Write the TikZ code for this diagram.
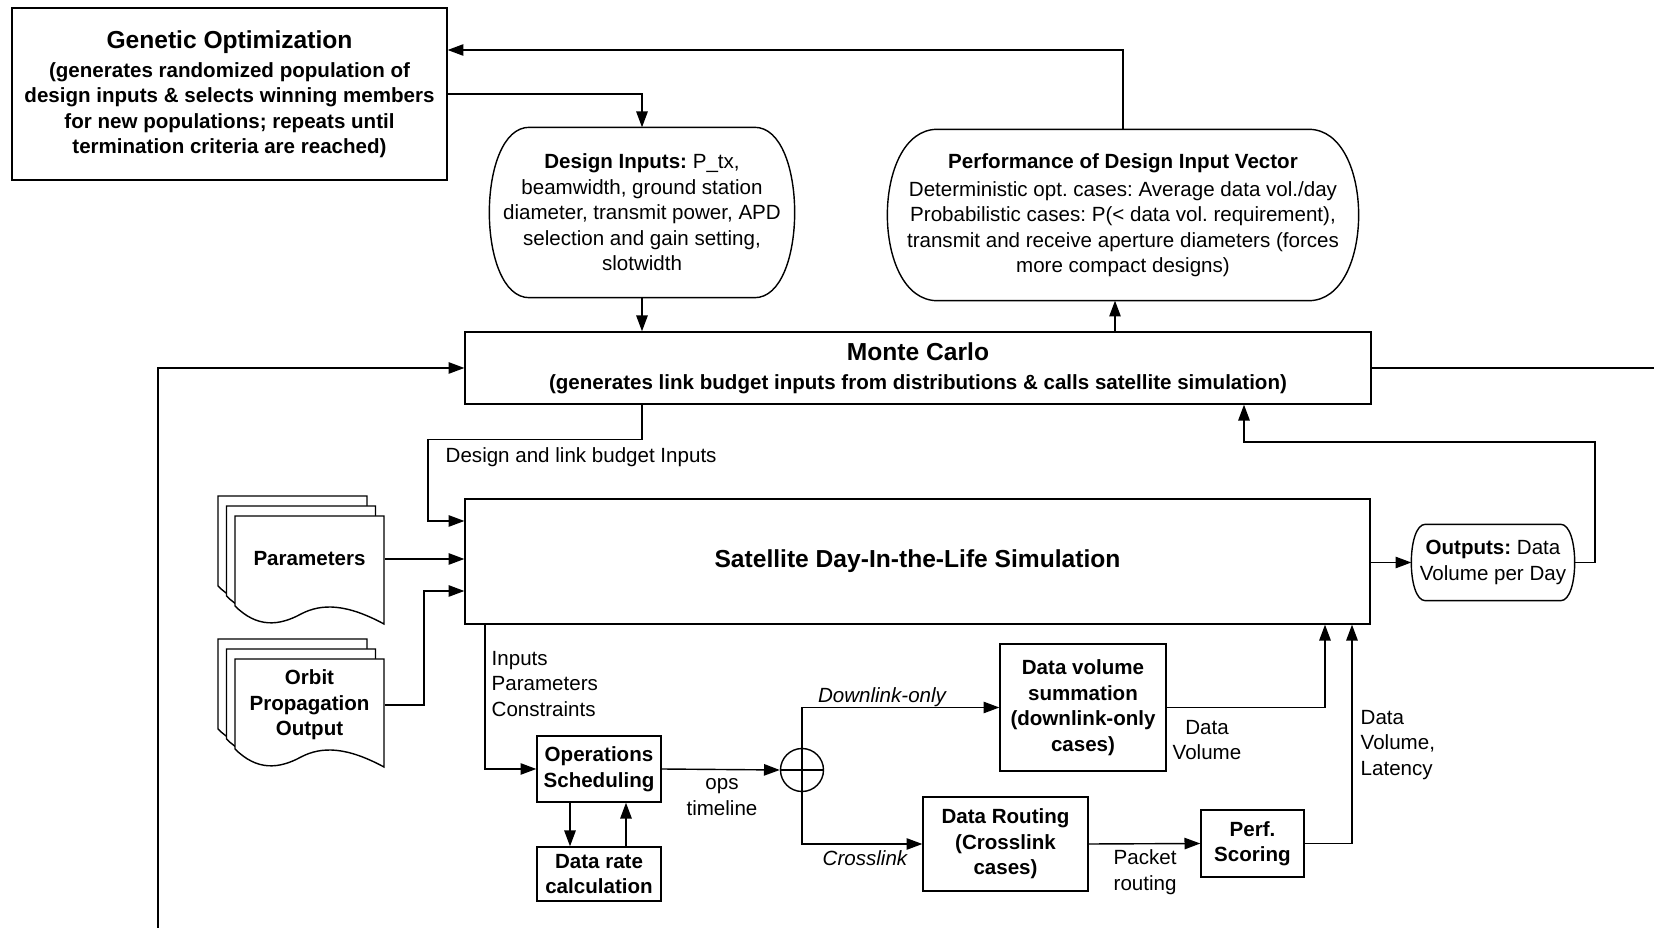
\documentclass[tikz,border=0pt]{standalone}
\usepackage{fontspec}
\setmainfont{Liberation Sans}
\frenchspacing
\usetikzlibrary{arrows.meta}

\begin{document}
\begin{tikzpicture}[x=0.02cm,y=-0.02cm,thick,>={Triangle[length=9pt,width=6.5pt]},
  font=\fontsize{11.7}{14.5}\selectfont,
  box/.style={draw,rectangle,align=center,inner sep=2pt,font=\fontsize{11.7}{14.5}\selectfont\bfseries},
  pill/.style={align=center,inner sep=2pt},
  doc/.style={minimum width=2.98cm,align=center,inner sep=0pt,font=\fontsize{11.7}{14.5}\selectfont\bfseries},
  lbl/.style={inner sep=0pt,align=left}]
\useasboundingbox (0,0) rectangle (1654,928);

% top row
\node[box,minimum width=8.7cm,minimum height=3.44cm] (go) at (229.5,94)
  {{\fontsize{14}{17}\selectfont Genetic Optimization}\\[2pt]
   (generates randomized population of\\design inputs \& selects winning members\\
   for new populations; repeats until\\termination criteria are reached)};
\node[pill,minimum width=6.08cm,minimum height=3.38cm] (di) at (642,212.5)
  {\textbf{Design Inputs:} P\_tx,\\beamwidth, ground station\\diameter, transmit power, APD\\selection and gain setting,\\slotwidth};
\node[pill,minimum width=9.4cm,minimum height=3.4cm] (perf) at (1123,215)
  {\textbf{Performance of Design Input Vector}\\[1.5pt]Deterministic opt. cases: Average data vol./day\\
   Probabilistic cases: P(< data vol. requirement),\\transmit and receive aperture diameters (forces\\more compact designs)};
\node[box,minimum width=18.12cm,minimum height=1.44cm] (mc) at (918,368)
  {{\fontsize{14}{17}\selectfont Monte Carlo}\\[2pt](generates link budget inputs from distributions \& calls satellite simulation)};

% simulation
\node[box,minimum width=18.1cm,minimum height=2.5cm,font=\fontsize{14}{17}\selectfont\bfseries] (sim) at (917.5,561.5)
  {Satellite Day-In-the-Life Simulation};
\node[pill,minimum width=3.24cm,minimum height=1.5cm] (out) at (1493,562.5)
  {\textbf{Outputs:} Data\\Volume per Day};

% pill outlines
\foreach \n/\i in {di/0.8cm,perf/1cm,out/0.28cm}
  \draw ([xshift=\i]\n.north west) -- ([xshift=-\i]\n.north east)
    .. controls ([xshift=\i/3]\n.north east) and ([xshift=\i/3]\n.south east) .. ([xshift=-\i]\n.south east)
    -- ([xshift=\i]\n.south west)
    .. controls ([xshift=-\i/3]\n.south west) and ([xshift=-\i/3]\n.north west) .. cycle;

% document stacks
\foreach \s in {0,143}
  \foreach \i in {0,1,2}
    \draw[fill=white,shift={(8.5*\i,\s+10*\i)}] (218,496) -- (367,496) -- (367,604)
      .. controls (330,584) and (305,583) .. (284,594)
      .. controls (262,606) and (240,608) .. (218,586) -- cycle;
\node[doc] (par) at (309.5,559) {Parameters};
\node[doc] (orb) at (309.5,705) {Orbit\\Propagation\\Output};

% sub-models
\node[box,minimum width=2.48cm,minimum height=1.32cm] (ops) at (599,769) {Operations\\Scheduling};
\node[box,minimum width=2.48cm,minimum height=1.08cm] (drc) at (599,874) {Data rate\\calculation};
\node[draw,circle,minimum size=0.86cm,inner sep=0pt] (sum) at (802,770) {};
\draw (sum.north) -- (sum.south) (sum.west) -- (sum.east);
\node[box,minimum width=3.32cm,minimum height=2.54cm] (dv) at (1083,707.5) {Data volume\\summation\\(downlink-only\\cases)};
\node[box,minimum width=3.3cm,minimum height=1.88cm] (rt) at (1005.5,844) {Data Routing\\(Crosslink\\cases)};
\node[box,minimum width=2.06cm,minimum height=1.34cm] (ps) at (1252.5,843.5) {Perf.\\Scoring};

% labels
\node[lbl,anchor=west] (dlb) at (445,457) {Design and link budget Inputs};
\node[lbl,anchor=west] (ipc) at (491,684) {Inputs\\Parameters\\Constraints};
\node[lbl,align=center] (opt) at (722,797) {ops\\timeline};
\node[lbl] (dlo) at (882,697) {\itshape Downlink-only};
\node[lbl] (crl) at (865,858) {\itshape Crosslink};
\node[lbl,align=center] (dvl) at (1207,740) {Data\\Volume};
\node[lbl,anchor=west] (prl) at (1113,872) {Packet\\routing};
\node[lbl,anchor=west] (dvll) at (1360,745) {Data\\Volume,\\Latency};

% bend points
\coordinate (pin) at ([xshift=-0.16cm]perf.south);
\coordinate (dbl) at (428,521);
\coordinate (r1) at (1595,442);
\coordinate (r2) at (1244,442);
\coordinate (lp) at (158,928);
\coordinate (rp) at (1654,370);
\coordinate (ob) at (424,591);
\coordinate (sd) at (485,0);
\coordinate (dvin) at (1325,0);
\coordinate (psin) at (1352,0);

% connectors
\draw[->] (go.east) -| (di.north);
\draw[->] (perf.north) |- ([yshift=0.88cm]go.east);
\draw[->] (di.south) -- (di.south |- mc.north);
\draw[->] (pin |- mc.north) -- (pin);
\draw[->] (mc.south -| di.south) -- ++(0,35) -| (dbl) -- (dbl -| sim.west);
\draw[->] (out.east) -| (r1) -- (r2) -- (r2 |- mc.south);
\draw[->] (lp) |- (mc.west);
\draw (mc.east) -- (mc.east -| rp);
\draw[->] (par.east) -- (par.east -| sim.west);
\draw[->] (orb.east) -| (ob) -- (ob -| sim.west);
\draw[->] (sim.east |- out.west) -- (out.west);
\draw[->] (sim.south -| sd) |- (ops.west);
\draw[->] ([xshift=-0.58cm]ops.south) -- ([xshift=-0.58cm]drc.north);
\draw[->] ([xshift=0.54cm]drc.north) -- ([xshift=0.54cm]ops.south);
\draw[->] (ops.east) -- (sum.west);
\draw[->] (sum.north) |- (dv.west);
\draw[->] (sum.south) |- (rt.west);
\draw[->] (rt.east) -- (ps.west);
\draw[->] (dv.east) -| (dvin |- sim.south);
\draw[->] (ps.east) -| (psin |- sim.south);
\end{tikzpicture}
\end{document}
